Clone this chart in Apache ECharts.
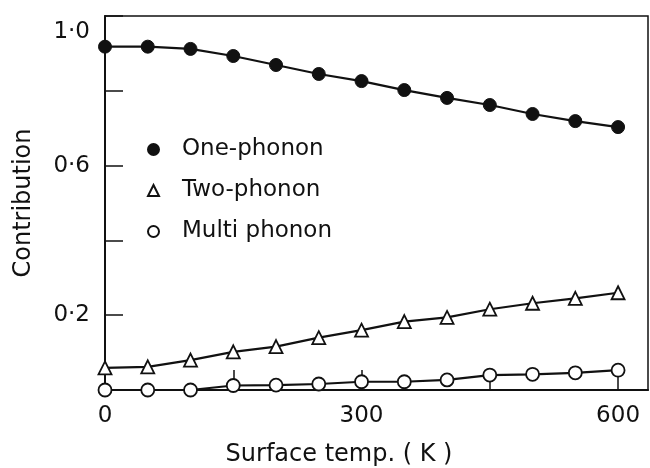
<!DOCTYPE html>
<html>
<head>
<meta charset="utf-8">
<script src="https://cdn.jsdelivr.net/npm/echarts@6/dist/echarts.min.js"></script>
<style>
  html, body { margin: 0; padding: 0; background: #fff; }
  #chart { width: 650px; height: 468px; }
</style>
</head>
<body>
<div id="chart"></div>
<script>
// surface temperature (K)
var temps = [0, 50, 100, 150, 200, 250, 300, 350, 400, 450, 500, 550, 600];
var onePhonon = [0.918, 0.918, 0.912, 0.893, 0.869, 0.845, 0.826, 0.802, 0.781, 0.762, 0.738, 0.719, 0.703];
var twoPhonon = [0.059, 0.062, 0.080, 0.102, 0.116, 0.140, 0.160, 0.183, 0.194, 0.216, 0.232, 0.245, 0.260];
var multiPhonon = [0.000, 0.000, 0.000, 0.012, 0.013, 0.016, 0.022, 0.022, 0.027, 0.040, 0.042, 0.046, 0.053];
var yLabels = { 2: '0·2', 6: '0·6', 10: '1·0' };
var xLabels = { 0: '0', 300: '300', 600: '600' };

var ink = '#111';
var font = 'DejaVu Sans';

function pairs(ys) {
  return temps.map(function (t, i) { return [t, ys[i]]; });
}

var chart = echarts.init(document.getElementById('chart'));

var option = {
  backgroundColor: '#fff',
  animation: false,
  textStyle: { fontFamily: font, color: ink },
  grid: {
    left: 105,
    right: 2,
    top: 16,
    bottom: 78,
    outerBoundsMode: 'none',
    containLabel: false,
    show: true,
    borderColor: ink,
    borderWidth: 1.5
  },
  legend: {
    orient: 'vertical',
    left: 147,
    top: 138,
    padding: 0,
    itemWidth: 11,
    itemHeight: 11,
    itemGap: 18,
    selectedMode: false,
    textStyle: {
      fontFamily: font,
      fontSize: 23,
      color: ink,
      lineHeight: 22,
      padding: [0, 0, 0, 18]
    },
    data: [
      { name: 'One-phonon', icon: 'circle' },
      { name: 'Two-phonon', icon: 'triangle' },
      { name: 'Multi phonon', icon: 'circle' }
    ]
  },
  xAxis: {
    type: 'value',
    min: 0,
    max: 635,
    interval: 150,
    name: 'Surface temp. ( K )',
    nameLocation: 'middle',
    nameGap: 53,
    nameTextStyle: { fontFamily: font, fontSize: 24, color: ink, padding: [0, 75, 0, 0] },
    axisLine: { lineStyle: { color: ink, width: 2 } },
    axisTick: { inside: true, length: 20, lineStyle: { color: ink, width: 1.5 } },
    splitLine: { show: false },
    axisLabel: {
      margin: 15,
      fontSize: 23,
      color: ink,
      fontFamily: font,
      showMaxLabel: false,
      formatter: function (v) {
        return xLabels[Math.round(v)] || '';
      }
    }
  },
  yAxis: {
    type: 'value',
    min: 0,
    max: 1,
    interval: 0.2,
    name: 'Contribution',
    nameLocation: 'middle',
    nameGap: 69,
    nameTextStyle: { fontFamily: font, fontSize: 24, color: ink },
    axisLine: { show: true, lineStyle: { color: ink, width: 2 } },
    axisTick: { show: true, inside: true, length: 18, lineStyle: { color: ink, width: 1.5 } },
    splitLine: { show: false },
    axisLabel: {
      margin: 15,
      fontSize: 23,
      color: ink,
      fontFamily: font,
      lineHeight: 32,
      formatter: function (v) {
        var k = Math.round(v * 10);
        if (k === 10) return '\n' + yLabels[k];
        return yLabels[k] || '';
      }
    }
  },
  series: [
    {
      name: 'One-phonon',
      type: 'line',
      data: pairs(onePhonon),
      symbol: 'circle',
      symbolSize: 13,
      clip: false,
      itemStyle: { color: ink, borderColor: ink, borderWidth: 1 },
      lineStyle: { color: ink, width: 2.2 }
    },
    {
      name: 'Two-phonon',
      type: 'line',
      data: pairs(twoPhonon),
      symbol: 'triangle',
      symbolSize: 13,
      clip: false,
      itemStyle: { color: '#fff', borderColor: ink, borderWidth: 1.8 },
      lineStyle: { color: ink, width: 2.2 }
    },
    {
      name: 'Multi phonon',
      type: 'line',
      data: pairs(multiPhonon),
      symbol: 'circle',
      symbolSize: 13,
      clip: false,
      itemStyle: { color: '#fff', borderColor: ink, borderWidth: 1.8 },
      lineStyle: { color: ink, width: 2.2 }
    }
  ]
};

chart.setOption(option);
</script>
</body>
</html>
